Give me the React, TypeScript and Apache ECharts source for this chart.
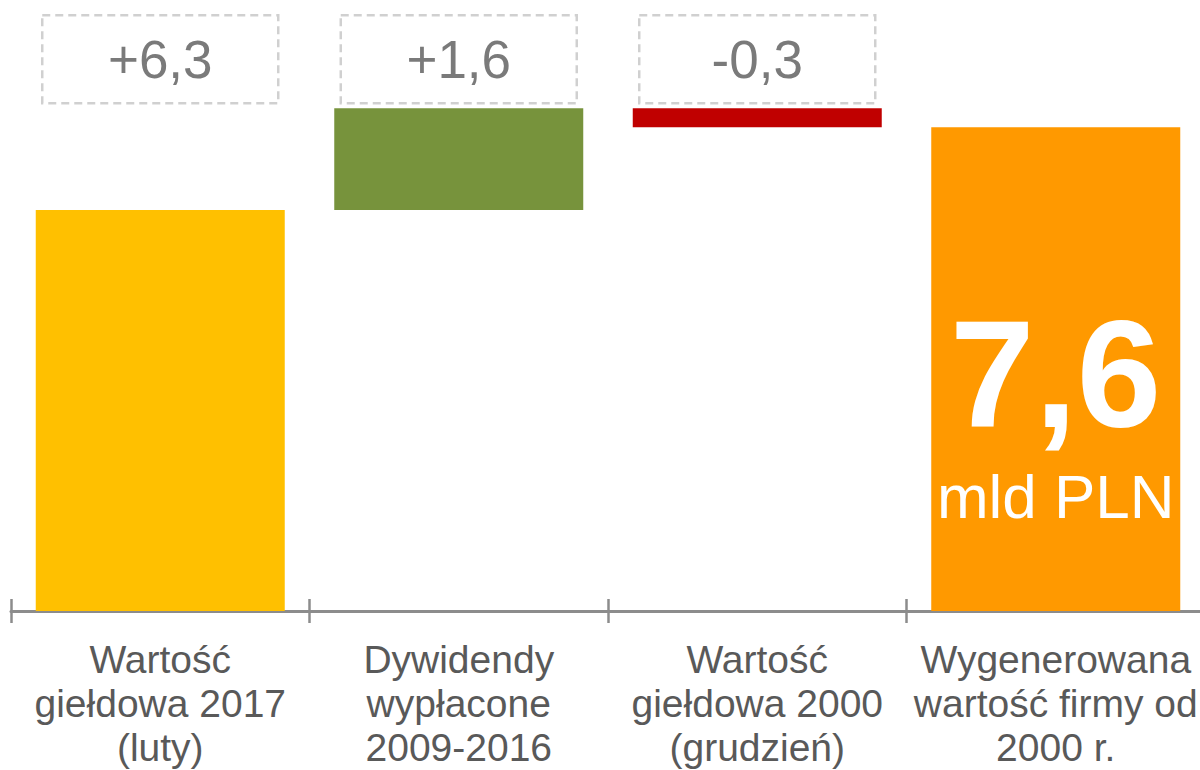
import React, { useEffect, useRef } from "react";
import * as echarts from "echarts";

const categories = [
  "Wartość\ngiełdowa 2017\n(luty)",
  "Dywidendy\nwypłacone\n2009-2016",
  "Wartość\ngiełdowa 2000\n(grudzień)",
  "Wygenerowana\nwartość firmy od\n2000 r.",
];
const steps = [6.3, 1.6, -0.3];
const total = 7.6;
const stepLabels = ["+6,3", "+1,6", "-0,3"];
const totalLabel = "7,6";
const unitLabel = "mld PLN";
const barColors = ["#FFC000", "#77933C", "#C00000", "#FF9900"];
const boxLevel = 8.67;

const FONT = "'Liberation Sans', Arial, sans-serif";

export default function App() {
  const ref = useRef<HTMLDivElement>(null);
  useEffect(() => {
    if (!ref.current) return;
    const chart = echarts.init(ref.current, null, { renderer: "svg" });

    const base: number[] = [];
    const vals: any[] = [];
    let cum = 0;
    steps.forEach((s, i) => {
      if (s >= 0) {
        base.push(cum);
        vals.push({ value: s, itemStyle: { color: barColors[i] } });
      } else {
        base.push(cum + s);
        vals.push({ value: -s, itemStyle: { color: barColors[i] } });
      }
      cum += s;
    });
    base.push(0);
    vals.push({
      value: total,
      itemStyle: { color: barColors[3] },
      label: {
        show: true,
        position: "inside",
        offset: [0, 47],
        formatter: `{a|${totalLabel}}\n{b|${unitLabel}}`,
        rich: {
          a: {
            fontSize: 152,
            fontWeight: "bold",
            color: "#ffffff",
            fontFamily: FONT,
            lineHeight: 160,
            align: "center",
          },
          b: {
            fontSize: 62,
            color: "#ffffff",
            fontFamily: FONT,
            lineHeight: 84,
            align: "center",
          },
        },
      },
    });

    const boxData = stepLabels.map((t, i) => ({
      value: [i, boxLevel],
      name: t,
    }));

    chart.setOption({
      animation: false,
      grid: { left: 11, width: 1194, top: 0, height: 611 },
      xAxis: [
        {
          type: "category",
          data: categories,
          axisLine: { show: true, lineStyle: { color: "#8c8c8c", width: 3 } },
          axisTick: {
            show: true,
            length: 12,
            lineStyle: { color: "#8c8c8c", width: 2.5 },
          },
          axisLabel: {
            color: "#595959",
            fontSize: 39,
            lineHeight: 44,
            fontFamily: FONT,
            margin: 26,
            interval: 0,
            align: "center",
          },
        },
        {
          type: "category",
          data: categories,
          position: "bottom",
          axisLine: { show: false },
          axisTick: {
            show: true,
            inside: true,
            length: 12,
            lineStyle: { color: "#8c8c8c", width: 2.5 },
          },
          axisLabel: { show: false },
        },
      ],
      yAxis: {
        type: "value",
        min: 0,
        max: 9.6,
        show: false,
        splitLine: { show: false },
      },
      series: [
        {
          type: "bar",
          stack: "w",
          data: base,
          barWidth: 249,
          itemStyle: { color: "transparent" },
          silent: true,
        },
        {
          type: "bar",
          stack: "w",
          data: vals,
          barWidth: 249,
        },
        {
          type: "scatter",
          data: boxData,
          symbolSize: 1,
          itemStyle: { color: "transparent" },
          label: {
            show: true,
            position: "inside",
            formatter: (p: any) => p.name,
            color: "#595959",
            fontSize: 53,
            fontFamily: FONT,
            width: 236,
            lineHeight: 54,
            padding: [17, 0],
            align: "center",
            verticalAlign: "middle",
            borderColor: "#c4c4c4",
            borderWidth: 2.5,
            borderType: [8, 5],
          },
        },
      ],
    });
    return () => chart.dispose();
  }, []);
  return (
    <div
      style={{
        position: "absolute",
        left: 0,
        top: 0,
        width: 1200,
        height: 770,
        overflow: "hidden",
      }}
    >
      <div ref={ref} style={{ width: 1210, height: 770 }} />
    </div>
  );
}
